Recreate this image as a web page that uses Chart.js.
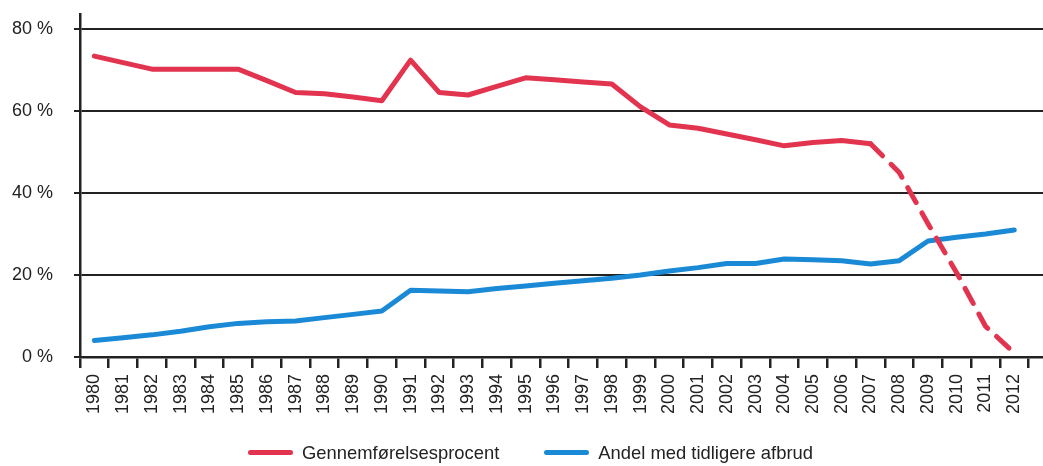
<!DOCTYPE html>
<html>
<head>
<meta charset="utf-8">
<script src="https://cdn.jsdelivr.net/npm/chart.js@4/dist/chart.umd.min.js"></script>
<style>
  html, body { margin: 0; padding: 0; background: #fff; }
  #wrap { position: relative; width: 1043px; height: 466px; overflow: hidden; }
  #legend { position: absolute; left: 0; top: 443px; width: 1043px; height: 20px;
    display: flex; align-items: center; padding-left: 248px; box-sizing: border-box;
    font-family: "Liberation Sans", Arial, sans-serif; font-size: 18.4px; line-height: 18px; color: #222; }
  .item { display: flex; align-items: center; }
  .item + .item { margin-left: 45px; }
  .swatch { width: 45px; height: 5px; border-radius: 3px; margin-right: 9px; transform: translateY(-1px); }
</style>
</head>
<body>
<div id="wrap">
  <canvas id="c" width="1043" height="466"></canvas>
  <div id="legend"></div>
</div>
<script>
const years = [1980, 1981, 1982, 1983, 1984, 1985, 1986, 1987, 1988, 1989, 1990,
  1991, 1992, 1993, 1994, 1995, 1996, 1997, 1998, 1999, 2000,
  2001, 2002, 2003, 2004, 2005, 2006, 2007, 2008, 2009, 2010, 2011, 2012];

const gennemfoerelse = [73.4, 71.8, 70.2, 70.2, 70.2, 70.2, 67.4, 64.5, 64.2, 63.4, 62.5,
  72.4, 64.5, 63.9, 66.0, 68.1, 67.6, 67.1, 66.6, 61.0, 56.6,
  55.8, 54.4, 53.0, 51.5, 52.3, 52.8, 52.0, 45.0, 32.5, 20.5, 7.5, 1.0];

const tidligereAfbrud = [4.0, 4.7, 5.4, 6.3, 7.4, 8.2, 8.6, 8.8, 9.6, 10.4, 11.2,
  16.3, 16.1, 15.9, 16.7, 17.3, 18.0, 18.6, 19.2, 20.0, 21.0,
  21.8, 22.8, 22.8, 23.9, 23.7, 23.5, 22.7, 23.5, 28.3, 29.2, 30.0, 31.0];

const seriesLabels = ['Gennemførelsesprocent', 'Andel med tidligere afbrud'];
const yTicks = [0, 20, 40, 60, 80];
const dashedFromYear = 2007;

const RED = '#e2334f';
const BLUE = '#1b8ad6';
const INK = '#222222';

Chart.defaults.font.family = '"Liberation Sans", Arial, sans-serif';
Chart.defaults.font.size = 18;
Chart.defaults.color = INK;

const toPoints = arr => arr.map((v, i) => ({ x: years[i], y: v }));
const dashStart = years.indexOf(dashedFromYear);

const chart = new Chart(document.getElementById('c'), {
  type: 'line',
  data: {
    datasets: [
      {
        label: seriesLabels[0],
        data: toPoints(gennemfoerelse),
        borderColor: RED,
        backgroundColor: RED,
        borderWidth: 5,
        pointRadius: 0,
        tension: 0,
        borderJoinStyle: 'round',
        borderCapStyle: 'round',
        segment: {
          borderDash: ctx => ctx.p0DataIndex >= dashStart ? [17, 12] : undefined
        }
      },
      {
        label: seriesLabels[1],
        data: toPoints(tidligereAfbrud),
        borderColor: BLUE,
        backgroundColor: BLUE,
        borderWidth: 5,
        pointRadius: 0,
        tension: 0,
        borderJoinStyle: 'round',
        borderCapStyle: 'round'
      }
    ]
  },
  options: {
    responsive: false,
    animation: false,
    layout: { padding: { left: 12, top: 14, right: 0, bottom: 53 } },
    plugins: { legend: { display: false }, tooltip: { enabled: false } },
    scales: {
      x: {
        type: 'linear',
        min: years[0] - 0.5,
        max: years[years.length - 1] + 1,
        afterBuildTicks: axis => {
          const t = [];
          for (let i = 0; i < years.length; i++) {
            t.push({ value: years[i] - 0.5 });
            t.push({ value: years[i] });
          }
          t.push({ value: years[years.length - 1] + 0.5 });
          axis.ticks = t;
        },
        afterFit: axis => {
          axis.paddingLeft = 0;
          axis.paddingRight = 0;
          axis.height = 56;
        },
        ticks: {
          autoSkip: false,
          minRotation: 90,
          maxRotation: 90,
          padding: 6,
          color: INK,
          callback: v => Number.isInteger(v) ? String(v) : ''
        },
        grid: {
          drawOnChartArea: false,
          drawTicks: true,
          tickLength: 11,
          lineWidth: 2.5,
          color: ctx => (ctx.tick && Number.isInteger(ctx.tick.value)) ? 'rgba(0,0,0,0)' : INK,
          tickColor: ctx => (ctx.tick && Number.isInteger(ctx.tick.value)) ? 'rgba(0,0,0,0)' : INK
        },
        border: { display: true, color: INK, width: 2.5 }
      },
      y: {
        min: 0,
        max: 83.66,
        afterBuildTicks: axis => { axis.ticks = yTicks.map(v => ({ value: v })); },
        afterFit: axis => {
          axis.paddingTop = 0;
          axis.paddingBottom = 0;
          axis.width = 68;
        },
        ticks: {
          padding: 21,
          color: INK,
          callback: v => v + ' %'
        },
        grid: {
          color: INK,
          lineWidth: 2,
          tickLength: 6,
          drawTicks: true
        },
        border: { display: true, color: INK, width: 2.5 }
      }
    }
  }
});

// HTML legend built from the chart's datasets
const legend = document.getElementById('legend');
chart.data.datasets.forEach(ds => {
  const item = document.createElement('div');
  item.className = 'item';
  const sw = document.createElement('span');
  sw.className = 'swatch';
  sw.style.background = ds.borderColor;
  const txt = document.createElement('span');
  txt.textContent = ds.label;
  item.appendChild(sw);
  item.appendChild(txt);
  legend.appendChild(item);
});
</script>
</body>
</html>
